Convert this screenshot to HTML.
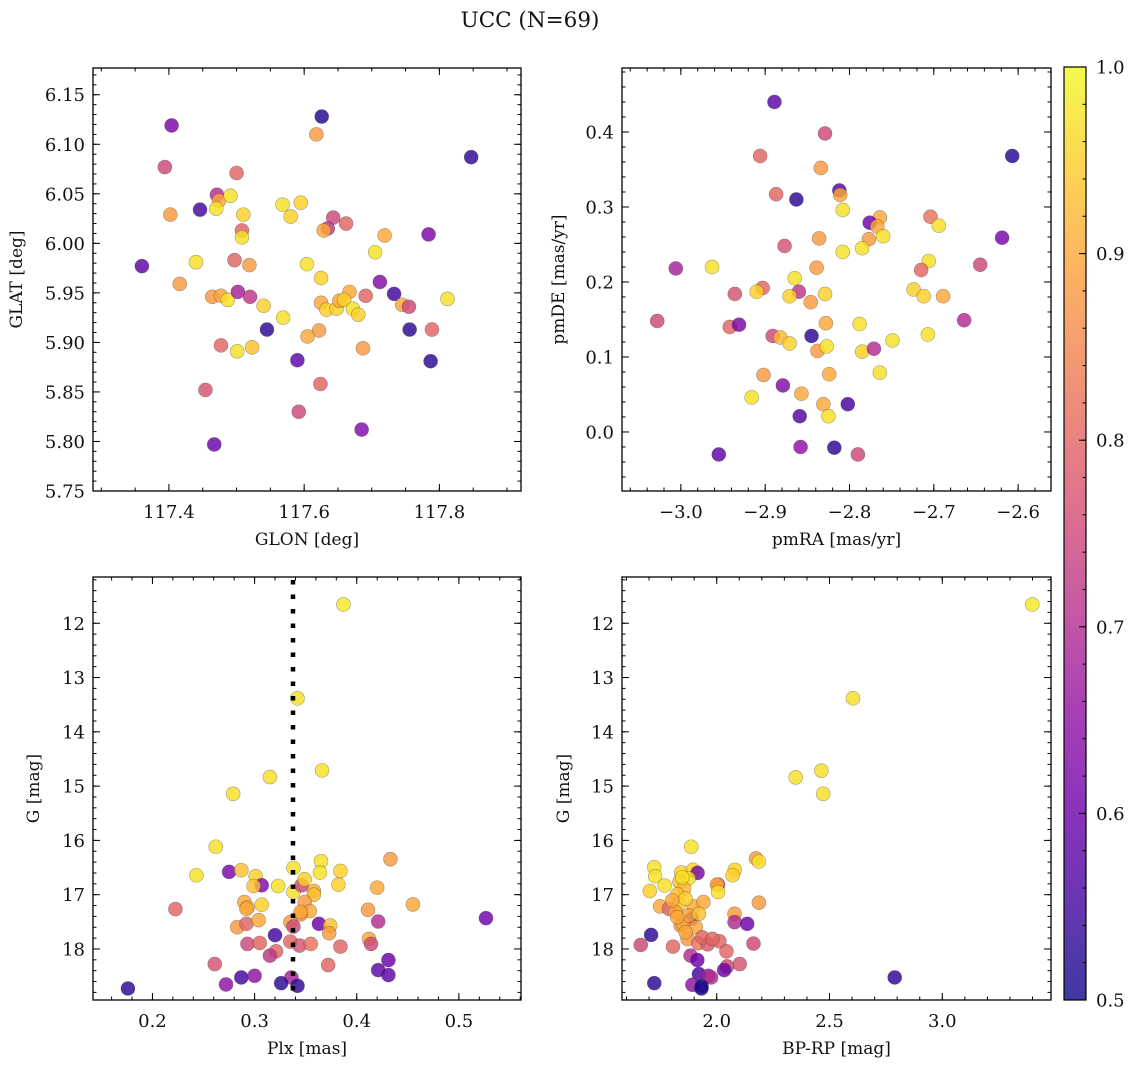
<!DOCTYPE html>
<html><head><meta charset="utf-8"><title>UCC (N=69)</title>
<style>
html,body{margin:0;padding:0;background:#fff;}
svg text{font-family:"DejaVu Serif","Liberation Serif",serif;fill:#111;}
</style></head>
<body>
<svg id="fig" width="1136" height="1067" viewBox="0 0 1136 1067" xmlns="http://www.w3.org/2000/svg">
<rect x="0" y="0" width="1136" height="1067" fill="#fff"/>
<text x="530" y="27" text-anchor="middle" font-size="21.5">UCC (N=69)</text>
<g id="layer"></g>
</svg>
<script>
// ---- Panel 1: GLON vs GLAT ----
const p1Glon=[117.404,117.626,117.618,117.847,117.394,117.500,117.471,117.474,117.491,117.470,117.446,117.402,117.510,117.568,117.595,117.580,117.643,117.662,117.635,117.629,117.508,117.508,117.784,117.719,117.705,117.360,117.440,117.497,117.519,117.604,117.625,117.416,117.712,117.733,117.691,117.667,117.464,117.477,117.487,117.502,117.520,117.540,117.569,117.625,117.633,117.648,117.652,117.659,117.672,117.680,117.745,117.755,117.812,117.545,117.622,117.605,117.756,117.789,117.477,117.501,117.523,117.687,117.590,117.787,117.454,117.624,117.592,117.685,117.467];
const p1Glat=[6.119,6.128,6.110,6.087,6.077,6.071,6.049,6.043,6.048,6.035,6.034,6.029,6.029,6.039,6.041,6.027,6.026,6.020,6.015,6.013,6.013,6.006,6.009,6.008,5.991,5.977,5.981,5.983,5.978,5.979,5.965,5.959,5.961,5.949,5.947,5.951,5.946,5.947,5.943,5.951,5.946,5.937,5.925,5.940,5.933,5.934,5.942,5.943,5.934,5.928,5.938,5.936,5.944,5.913,5.912,5.906,5.913,5.913,5.897,5.891,5.895,5.894,5.882,5.881,5.852,5.858,5.830,5.812,5.797];
const p1Prob=[0.62,0.52,0.88,0.53,0.75,0.80,0.70,0.90,0.97,0.97,0.55,0.88,0.95,0.97,0.95,0.95,0.75,0.80,0.72,0.90,0.80,0.97,0.62,0.90,0.97,0.58,0.97,0.80,0.88,0.97,0.95,0.88,0.63,0.55,0.80,0.90,0.88,0.90,0.97,0.68,0.72,0.95,0.97,0.90,0.95,0.95,0.90,0.95,0.97,0.95,0.90,0.75,0.97,0.53,0.88,0.90,0.53,0.80,0.80,0.97,0.93,0.88,0.58,0.53,0.77,0.80,0.75,0.63,0.60];
// ---- Panel 2: pmRA vs pmDE ----
const p2PmRA=[-2.889,-2.829,-2.906,-2.607,-2.834,-2.812,-2.811,-2.887,-2.863,-2.808,-2.764,-2.776,-2.767,-2.760,-2.777,-2.785,-2.704,-2.694,-2.619,-2.836,-2.877,-2.808,-3.006,-2.963,-2.839,-2.706,-2.715,-2.645,-2.865,-2.903,-2.910,-2.936,-2.860,-2.871,-2.829,-2.846,-2.724,-2.712,-2.689,-3.028,-2.942,-2.931,-2.828,-2.788,-2.664,-2.891,-2.882,-2.871,-2.845,-2.838,-2.827,-2.785,-2.771,-2.749,-2.707,-2.902,-2.879,-2.824,-2.764,-2.916,-2.857,-2.831,-2.802,-2.859,-2.825,-2.955,-2.858,-2.818,-2.790];
const p2PmDE=[0.440,0.398,0.368,0.368,0.352,0.322,0.316,0.317,0.310,0.296,0.286,0.279,0.274,0.261,0.257,0.245,0.287,0.275,0.259,0.258,0.248,0.240,0.218,0.220,0.219,0.228,0.216,0.223,0.205,0.192,0.187,0.184,0.187,0.181,0.184,0.173,0.190,0.181,0.181,0.148,0.140,0.143,0.145,0.144,0.149,0.128,0.126,0.118,0.128,0.108,0.114,0.107,0.111,0.122,0.130,0.076,0.062,0.077,0.079,0.046,0.051,0.037,0.037,0.021,0.021,-0.030,-0.020,-0.021,-0.030];
const p2Prob=[0.58,0.75,0.80,0.52,0.88,0.57,0.90,0.80,0.53,0.97,0.90,0.60,0.90,0.97,0.88,0.97,0.82,0.97,0.62,0.88,0.77,0.97,0.68,0.97,0.88,0.97,0.80,0.75,0.97,0.80,0.95,0.77,0.72,0.95,0.95,0.88,0.95,0.95,0.90,0.75,0.80,0.62,0.90,0.97,0.70,0.75,0.92,0.95,0.53,0.88,0.97,0.95,0.70,0.97,0.97,0.88,0.63,0.90,0.97,0.97,0.90,0.90,0.55,0.57,0.97,0.58,0.65,0.53,0.75];
// ---- Panel 3: Plx vs G ----
const p3Plx=[0.387,0.342,0.366,0.315,0.279,0.262,0.243,0.275,0.287,0.301,0.307,0.299,0.323,0.338,0.338,0.346,0.349,0.365,0.364,0.384,0.382,0.358,0.358,0.433,0.420,0.455,0.2225,0.290,0.293,0.307,0.349,0.354,0.345,0.411,0.421,0.5265,0.283,0.292,0.304,0.335,0.338,0.363,0.374,0.373,0.320,0.412,0.414,0.293,0.305,0.335,0.344,0.355,0.384,0.321,0.315,0.261,0.372,0.431,0.421,0.431,0.287,0.300,0.272,0.336,0.326,0.342,0.176,0.292,0.345];
const p3G=[11.654,13.383,14.710,14.833,15.142,16.117,16.642,16.580,16.549,16.660,16.827,16.840,16.840,16.506,16.951,16.827,16.716,16.383,16.593,16.562,16.815,16.932,17.000,16.346,16.870,17.179,17.265,17.136,17.235,17.185,17.136,17.302,17.364,17.278,17.494,17.432,17.599,17.537,17.469,17.506,17.586,17.537,17.568,17.710,17.747,17.815,17.907,17.907,17.889,17.864,17.938,17.907,17.957,18.043,18.123,18.278,18.296,18.204,18.389,18.481,18.525,18.494,18.654,18.525,18.630,18.679,18.728,17.260,17.320];
const p3Prob=[0.98,0.97,0.97,0.97,0.97,0.97,0.97,0.62,0.93,0.95,0.63,0.93,0.97,0.97,0.97,0.75,0.95,0.97,0.97,0.95,0.95,0.90,0.93,0.88,0.90,0.90,0.80,0.90,0.92,0.95,0.88,0.90,0.88,0.88,0.70,0.60,0.88,0.80,0.90,0.88,0.75,0.60,0.93,0.88,0.55,0.90,0.75,0.75,0.80,0.80,0.77,0.82,0.80,0.80,0.72,0.77,0.80,0.60,0.58,0.58,0.55,0.65,0.65,0.68,0.53,0.53,0.53,0.90,0.90];
const plxMedian=[0.3376];
// ---- Panel 4: BP-RP vs G ----
const p4BpRp=[3.399,2.604,2.464,2.350,2.472,1.887,2.174,2.187,1.723,1.727,1.769,1.703,1.843,1.895,1.915,1.875,1.835,1.855,1.826,2.080,2.070,2.006,2.001,2.006,1.749,1.832,1.788,1.818,1.898,1.941,2.187,2.079,2.079,2.135,1.889,1.840,1.850,1.907,1.709,1.663,1.806,1.871,1.918,1.960,2.012,2.043,2.163,1.884,1.914,2.102,2.046,2.033,1.921,1.963,1.975,1.892,1.933,1.932,1.723,2.789,1.862,1.803,1.877,1.862,1.936,1.981,1.847,1.825,1.921];
const p4G=[11.654,13.383,14.716,14.840,15.142,16.117,16.333,16.389,16.494,16.660,16.833,16.932,16.593,16.543,16.599,16.704,16.765,16.889,16.994,16.543,16.642,16.815,16.815,16.951,17.216,17.185,17.259,17.321,17.216,17.136,17.148,17.352,17.506,17.537,17.444,17.568,17.537,17.599,17.741,17.926,17.957,17.815,17.895,17.914,17.858,18.043,17.901,18.123,18.204,18.278,18.321,18.389,18.463,18.494,18.525,18.660,18.691,18.728,18.630,18.525,17.074,17.105,17.383,17.691,17.784,17.815,16.679,17.414,17.352];
const p4Prob=[0.98,0.97,0.97,0.97,0.97,0.97,0.88,0.97,0.97,0.97,0.97,0.95,0.95,0.95,0.62,0.97,0.93,0.92,0.93,0.95,0.95,0.75,0.90,0.97,0.90,0.95,0.80,0.90,0.90,0.90,0.88,0.88,0.70,0.60,0.60,0.88,0.90,0.90,0.53,0.75,0.80,0.88,0.82,0.78,0.80,0.80,0.75,0.70,0.60,0.77,0.75,0.60,0.55,0.68,0.70,0.65,0.50,0.52,0.53,0.53,0.95,0.90,0.90,0.90,0.80,0.80,0.97,0.90,0.93];
// ---- Colorbar ----
const cbarTicks=[0.5,0.6,0.7,0.8,0.9,1.0];

const NS='http://www.w3.org/2000/svg';
const layer=document.getElementById('layer');
function mk(tag,attrs,parent){const e=document.createElementNS(NS,tag);for(const k in attrs)e.setAttribute(k,attrs[k]);(parent||layer).appendChild(e);return e;}

const plasmaStops=[[13,8,135],[65,4,157],[106,0,168],[143,13,164],[177,42,144],[204,71,120],[225,100,98],[242,132,75],[252,166,54],[252,206,37],[240,249,33]];
function plasma(t){t=Math.max(0,Math.min(1,t));const s=t*10;const i=Math.min(9,Math.floor(s));const f=s-i;const a=plasmaStops[i],b=plasmaStops[i+1];
 return 'rgb('+Math.round(a[0]+(b[0]-a[0])*f)+','+Math.round(a[1]+(b[1]-a[1])*f)+','+Math.round(a[2]+(b[2]-a[2])*f)+')';}
function cnorm(v){return (v-0.5)/0.5;}

function fmt(v,d){const s=Math.abs(v).toFixed(d);return (v<-1e-9?'\u2212':'')+s;}

const TICK_FS=18, LAB_FS=17;
const panels=[
 {name:'glon-glat',x0:93,y0:68,w:428,h:423,xmin:117.2877,xmax:117.9207,ymin:5.75,ymax:6.177,yinv:false,xmaj:0.2,xmn:0.05,ymaj:0.05,ymn:0.01,xdec:1,ydec:2,xs:p1Glon,ys:p1Glat,cs:p1Prob,xl:'GLON [deg]',yl:'GLAT [deg]',ylx:22},
 {name:'pmra-pmde',x0:622,y0:68,w:429,h:423,xmin:-3.0698,xmax:-2.561,ymin:-0.0787,ymax:0.4853,yinv:false,xmaj:0.1,xmn:0.02,ymaj:0.1,ymn:0.02,xdec:1,ydec:1,xs:p2PmRA,ys:p2PmDE,cs:p2Prob,xl:'pmRA [mas/yr]',yl:'pmDE [mas/yr]',ylx:564},
 {name:'plx-g',x0:93,y0:577,w:428,h:423,xmin:0.1418,xmax:0.5608,ymin:11.148,ymax:18.94,yinv:true,xmaj:0.1,xmn:0.02,ymaj:1,ymn:0.2,xdec:1,ydec:0,xs:p3Plx,ys:p3G,cs:p3Prob,xl:'Plx [mas]',yl:'G [mag]',ylx:39},
 {name:'bprp-g',x0:622,y0:577,w:429,h:423,xmin:1.580,xmax:3.482,ymin:11.148,ymax:18.94,yinv:true,xmaj:0.5,xmn:0.1,ymaj:1,ymn:0.2,xdec:1,ydec:0,xs:p4BpRp,ys:p4G,cs:p4Prob,xl:'BP-RP [mag]',yl:'G [mag]',ylx:569}
];

function ticksFor(min,max,step){const out=[];const k0=Math.ceil(min/step-1e-6),k1=Math.floor(max/step+1e-6);for(let k=k0;k<=k1;k++)out.push(k*step);return out;}

panels.forEach(p=>{
 const g=mk('g',{});
 
 
 const X=v=>p.x0+(v-p.xmin)/(p.xmax-p.xmin)*p.w;
 const Y=v=>p.yinv? p.y0+(v-p.ymin)/(p.ymax-p.ymin)*p.h : p.y0+p.h-(v-p.ymin)/(p.ymax-p.ymin)*p.h;
 const clip=mk('clipPath',{id:'clip-'+p.name},g);
 mk('rect',{x:p.x0,y:p.y0,width:p.w,height:p.h},clip);
 const pts=mk('g',{'clip-path':'url(#clip-'+p.name+')'},g);
 
 
 for(let i=0;i<p.xs.length;i++){
  const c=mk('circle',{cx:X(p.xs[i]),cy:Y(p.ys[i]),r:7,fill:plasma(cnorm(p.cs[i])),'fill-opacity':0.82,stroke:'rgba(60,60,60,0.45)','stroke-width':0.6},pts);
  
  
 }
 if(p.name==='plx-g'){
  const ln=mk('line',{x1:X(plxMedian[0]),x2:X(plxMedian[0]),y1:p.y0+3,y2:p.y0+p.h,stroke:'#000','stroke-width':4.5,'stroke-dasharray':'4.5 10'},pts);
  
  
 }
 const fr=mk('rect',{x:p.x0,y:p.y0,width:p.w,height:p.h,fill:'none',stroke:'#000','stroke-width':1.3},g);
 
 
 const tk=mk('g',{stroke:'#000','stroke-width':1},g);
 
 
 ticksFor(p.xmin,p.xmax,p.xmn).forEach(v=>{const x=X(v);mk('line',{x1:x,x2:x,y1:p.y0+p.h,y2:p.y0+p.h-3.5},tk);mk('line',{x1:x,x2:x,y1:p.y0,y2:p.y0+3.5},tk);});
 ticksFor(p.ymin,p.ymax,p.ymn).forEach(v=>{const y=Y(v);mk('line',{x1:p.x0,x2:p.x0+3.5,y1:y,y2:y},tk);mk('line',{x1:p.x0+p.w,x2:p.x0+p.w-3.5,y1:y,y2:y},tk);});
 ticksFor(p.xmin,p.xmax,p.xmaj).forEach(v=>{const x=X(v);mk('line',{x1:x,x2:x,y1:p.y0+p.h,y2:p.y0+p.h-7},tk);mk('line',{x1:x,x2:x,y1:p.y0,y2:p.y0+7},tk);
  const t=mk('text',{x:x,y:p.y0+p.h+27,'text-anchor':'middle','font-size':TICK_FS},g);t.textContent=fmt(v,p.xdec);
  
  });
 ticksFor(p.ymin,p.ymax,p.ymaj).forEach(v=>{const y=Y(v);mk('line',{x1:p.x0,x2:p.x0+7,y1:y,y2:y},tk);mk('line',{x1:p.x0+p.w,x2:p.x0+p.w-7,y1:y,y2:y},tk);
  const t=mk('text',{x:p.x0-8,y:y+6.5,'text-anchor':'end','font-size':TICK_FS},g);t.textContent=fmt(v,p.ydec);
  
  });
 const xl=mk('text',{x:p.x0+p.w/2,y:p.y0+p.h+54,'text-anchor':'middle','font-size':LAB_FS},g);xl.textContent=p.xl;
 
 
 const yc=p.y0+p.h/2;
 const yl=mk('text',{x:p.ylx,y:yc,'text-anchor':'middle','font-size':LAB_FS,transform:'rotate(-90 '+p.ylx+' '+yc+')'},g);yl.textContent=p.yl;
 
 
});

(function(){
 const cx=1064,cy=67,cw=22,ch=933;
 const cb=mk('g',{});
 
 
 const defs=mk('defs',{},cb);
 const lg=mk('linearGradient',{id:'cbg',x1:0,y1:1,x2:0,y2:0},defs);
 for(let i=0;i<=20;i++){const t=i/20;mk('stop',{offset:t,'stop-color':plasma(t),'stop-opacity':0.8},lg);}
 mk('rect',{x:cx,y:cy,width:cw,height:ch,fill:'url(#cbg)',stroke:'#000','stroke-width':1.2},cb);
 const CY=v=>cy+ch-(v-0.5)/0.5*ch;
 for(let k=25;k<=50;k++){const v=k*0.02;const y=CY(v);mk('line',{x1:cx+cw,x2:cx+cw-3.5,y1:y,y2:y,stroke:'#000','stroke-width':1},cb);}
 cbarTicks.forEach(v=>{const y=CY(v);mk('line',{x1:cx+cw,x2:cx+cw-7,y1:y,y2:y,stroke:'#000','stroke-width':1},cb);
  const t=mk('text',{x:cx+cw+10,y:y+6.5,'font-size':TICK_FS},cb);t.textContent=v.toFixed(1);
  
  });
})();
</script>
</body></html>
